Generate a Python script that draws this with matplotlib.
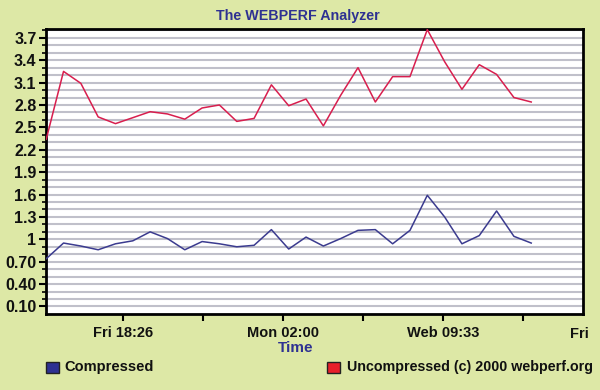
import numpy as np
import matplotlib
matplotlib.use("Agg")
from matplotlib import pyplot as plt
from matplotlib import font_manager
from matplotlib.patches import Rectangle

names = {f.name for f in font_manager.fontManager.ttflist}
wanted = ["Liberation Sans Narrow", "Liberation Sans", "Arimo", "Roboto Condensed", "Roboto", "Inter"]
fams = [n for n in wanted if n in names]
plt.rcParams['font.family'] = fams + ['DejaVu Sans']

# values, one point per sample
uncompressed = [2.34, 3.25, 3.09, 2.64, 2.55, 2.63, 2.71, 2.68, 2.61, 2.76,
                2.80, 2.58, 2.62, 3.07, 2.79, 2.88, 2.52, 2.93, 3.30, 2.84,
                3.18, 3.18, 3.81, 3.38, 3.01, 3.34, 3.21, 2.90, 2.84]
compressed = [0.74, 0.95, 0.91, 0.86, 0.94, 0.98, 1.10, 1.01, 0.86, 0.97,
              0.94, 0.90, 0.92, 1.13, 0.87, 1.03, 0.91, 1.01, 1.12, 1.13,
              0.94, 1.12, 1.59, 1.30, 0.94, 1.05, 1.38, 1.04, 0.95]
y_ticks = [0.1, 0.4, 0.7, 1.0, 1.3, 1.6, 1.9, 2.2, 2.5, 2.8, 3.1, 3.4, 3.7]
y_labels = ["0.10", "0.40", "0.70", "1", "1.3", "1.6", "1.9", "2.2",
            "2.5", "2.8", "3.1", "3.4", "3.7"]
x_labels = ["Fri 18:26", "", "Mon 02:00", "", "Web 09:33", ""]

bg = "#dde8a6"
navy = "#2e3192"
red = "#d81e4e"
ink = "#111111"

fig = plt.figure(figsize=(6, 3.9), dpi=100, facecolor=bg)
ax = fig.add_axes([0.077, 0.195, 0.895, 0.731])
ax.set_facecolor("white")

x = np.arange(len(uncompressed))
ax.plot(x, uncompressed, color=red, lw=1.1, zorder=3)
ax.plot(x, compressed, color="#3b3b8f", lw=1.1, zorder=3)

ax.set_xlim(0, 31)
ax.set_ylim(0, 3.82)

# horizontal grey rules every 0.1
for g in np.arange(0.1, 3.85, 0.1):
    ax.axhline(g, color="#c0c0ca", lw=1.5, zorder=1)

ax.set_yticks(y_ticks)
ax.set_yticklabels(y_labels)
ax.set_yticks(np.arange(0.1, 3.81, 0.1), minor=True)
xt = [4.41 + 4.62 * k for k in range(len(x_labels))]
ax.set_xticks(xt)
ax.set_xticklabels(x_labels)

ax.tick_params(axis="both", which="major", length=5, width=1.5, color="black", pad=2)
ax.tick_params(axis="y", which="major", labelsize=11.5)
ax.tick_params(axis="x", which="major", labelsize=10.5, pad=4)
ax.tick_params(axis="y", which="minor", length=3, width=1.2, color="black")
for lab in ax.get_xticklabels() + ax.get_yticklabels():
    lab.set_fontweight("bold")
    lab.set_color(ink)
ax.text(30.8, -0.17, "Fri", ha="center", va="top", fontsize=10.5,
        fontweight="bold", color=ink, clip_on=False)

for s in ax.spines.values():
    s.set_linewidth(2)
    s.set_color("black")

fig.text(0.497, 0.958, "The WEBPERF Analyzer", ha="center", va="center",
         fontsize=10.3, fontweight="bold", color=navy)
fig.text(0.492, 0.108, "Time", ha="center", va="center", fontsize=11,
         fontweight="bold", color=navy)

# legend boxes
fig.add_artist(Rectangle((0.077, 0.043), 0.022, 0.03, transform=fig.transFigure,
                         facecolor=navy, edgecolor="#222222", lw=1))
fig.text(0.107, 0.058, "Compressed", ha="left", va="center", fontsize=10.5,
         fontweight="bold", color=ink)
fig.add_artist(Rectangle((0.545, 0.043), 0.022, 0.03, transform=fig.transFigure,
                         facecolor="#e8202a", edgecolor="#222222", lw=1))
fig.text(0.578, 0.058, "Uncompressed (c) 2000 webperf.org", ha="left", va="center",
         fontsize=10.3, fontweight="bold", color=ink)

fig.savefig("out.png", dpi=100, facecolor=bg)
